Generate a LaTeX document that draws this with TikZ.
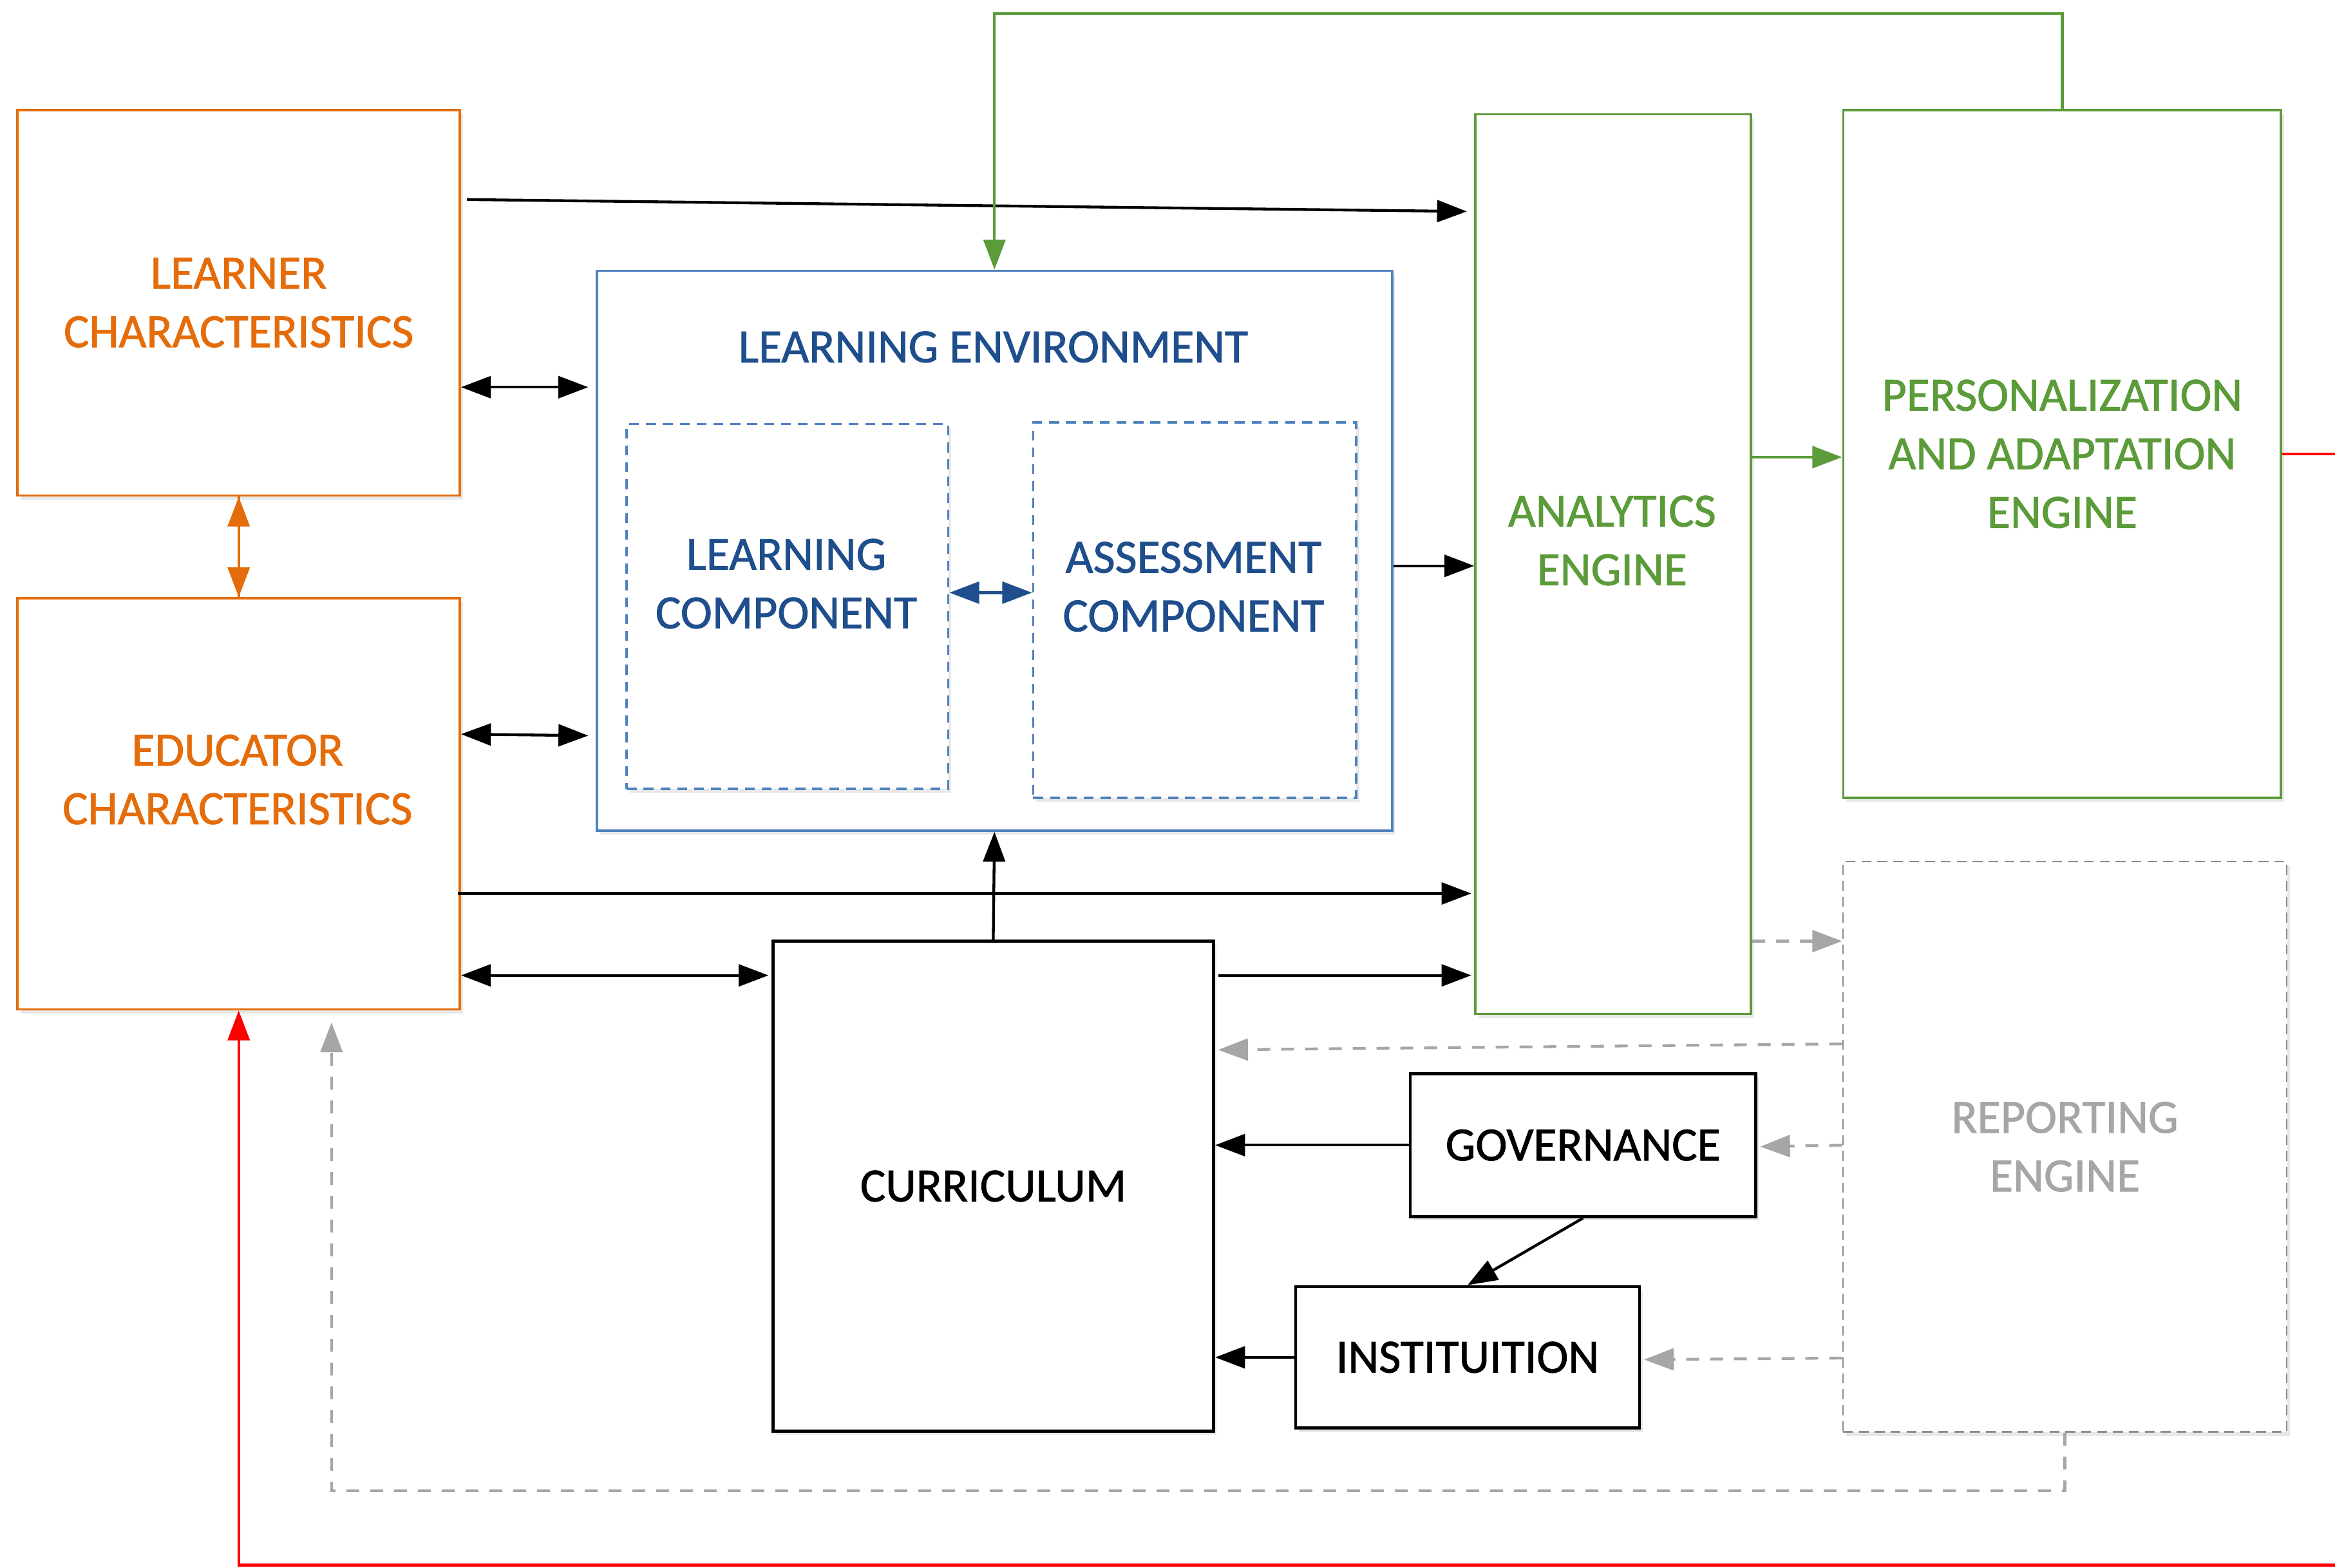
\documentclass[tikz,border=0pt]{standalone}
\usepackage{fontspec}
\setmainfont{Carlito}[BoldFont=Carlito, BoldFeatures={FakeBold=1.2}]
\usetikzlibrary{arrows.meta}
\usetikzlibrary{calc}
\usetikzlibrary{shadows}

\definecolor{learnorange}{RGB}{228,108,10}
\definecolor{envblue}{RGB}{79,129,189}
\definecolor{envtext}{RGB}{31,78,140}
\definecolor{enginegreen}{RGB}{91,155,57}
\definecolor{reportgray}{RGB}{166,166,166}
\definecolor{reportline}{RGB}{140,140,140}
\definecolor{loopred}{RGB}{255,0,0}

\tikzset{
  box/.style={draw, fill=white, anchor=north west, inner sep=0pt, align=center,
    line width=1.2pt, font=\fontsize{24}{29.5}\selectfont\bfseries,
    drop shadow={opacity=0.18, shadow xshift=1.5pt, shadow yshift=-2pt}},
  orangebox/.style={box, draw=learnorange, text=learnorange},
  envbox/.style={box, draw=envblue, text=envtext},
  compbox/.style={box, draw=envblue, text=envtext, dash pattern=on 5pt off 3.5pt},
  greenbox/.style={box, draw=enginegreen, text=enginegreen},
  blackbox/.style={box, draw=black, text=black, line width=1.5pt},
  reportbox/.style={box, draw=reportline, text=reportgray, line width=0.9pt,
    dash pattern=on 5pt off 3pt},
  boxtext/.style={align=center, inner sep=0pt, font=\fontsize{24}{29.5}\selectfont\bfseries},
  tip/.style={-{Triangle[length=15pt,width=11pt]}},
  twotip/.style={{Triangle[length=15pt,width=11pt]}-{Triangle[length=15pt,width=11pt]}},
  flow/.style={tip, line width=1.4pt, black},
  twoway/.style={twotip, line width=1.4pt, black},
  greenflow/.style={tip, line width=1.4pt, enginegreen},
  reportflow/.style={tip, line width=1.4pt, reportgray, dash pattern=on 6.5pt off 5.5pt},
}

\begin{document}
\begin{tikzpicture}[x=0.75pt,y=0.75pt,yscale=-1,xscale=1]
\useasboundingbox (0,0) rectangle (1568,1052.6);
\clip (0,0) rectangle (1568,1052.6);

% Left column
\node[orangebox, minimum width=222.75pt, minimum height=194.25pt] (learner) at (11,73) {LEARNER\\CHARACTERISTICS};
\node[orangebox, minimum width=222.75pt, minimum height=207pt] (educator) at (11,401) {};
\node[boxtext, text=learnorange] (educatortext) at (159.5,523.5) {EDUCATOR\\CHARACTERISTICS};

% Learning environment
\node[envbox, minimum width=400.5pt, minimum height=282pt] (lenv) at (400,181) {};
\node[boxtext, text=envtext] (lenvtext) at (667,233) {LEARNING ENVIRONMENT};
\node[compbox, minimum width=162pt, minimum height=183.75pt] (lcomp) at (420,284) {};
\node[boxtext, text=envtext] (lcomptext) at (528,392) {LEARNING\\COMPONENT};
\node[compbox, minimum width=162.75pt, minimum height=189pt] (acomp) at (693,283) {};
\node[boxtext, text=envtext] (acomptext) at (801.5,394) {ASSESSMENT\\COMPONENT};

% Engines
\node[greenbox, minimum width=138.75pt, minimum height=453pt] (analytics) at (990,76) {};
\node[boxtext, text=enginegreen] (analyticstext) at (1082.5,363) {ANALYTICS\\ENGINE};
\node[greenbox, minimum width=220.5pt, minimum height=346.5pt] (personal) at (1237,73) {PERSONALIZATION\\AND ADAPTATION\\ENGINE};
\node[reportbox, minimum width=223.5pt, minimum height=287.25pt] (reporting) at (1237,578) {REPORTING\\ENGINE};

% Curriculum side
\node[blackbox, minimum width=222pt, minimum height=246.75pt] (curriculum) at (518,631) {CURRICULUM};
\node[blackbox, minimum width=174pt, minimum height=72pt] (governance) at (946,720) {GOVERNANCE};
\node[blackbox, minimum width=173.25pt, minimum height=71.25pt] (institution) at (869,863) {INSTITUITION};

% Connectors
\draw[tip, line width=1.4pt, learnorange] (learner.south) -- (educator.north);
\draw[tip, line width=1.4pt, learnorange] (educator.north) -- (learner.south);
\draw[flow] ($(learner.north east)+(4,61)$) -- ($(analytics.north west)+(-5,66)$);
\draw[twoway] (learner.east |- 0,260) -- ($(lenv.west |- 0,260)+(-5,0)$);
\draw[twoway] (educator.east |- 0,493) -- ($(lenv.west |- 0,494)+(-5,0)$);
\draw[twotip, line width=1.4pt, envtext] (lcomp.east |- 0,398) -- (acomp.west |- 0,398);
\draw[flow] (lenv.east |- 0,380) -- (analytics.west |- 0,380);
\draw[flow] ($(educator.east |- 0,600)+(-2,0)$) -- ($(analytics.west |- 0,600)+(-2,0)$);
\draw[flow] (curriculum.north) -- (lenv.south);
\draw[twoway] (educator.east |- 0,655) -- ($(curriculum.west |- 0,655)+(-2,0)$);
\draw[flow] ($(curriculum.east |- 0,655)+(2,0)$) -- ($(analytics.west |- 0,655)+(-2,0)$);
\draw[greenflow] (analytics.east |- 0,307) -- (personal.west |- 0,307);
\draw[greenflow] (personal.north) -- (personal.north |- 0,9) -| (lenv.north);
\draw[reportflow] (analytics.east |- 0,632) -- (reporting.west |- 0,632);
\draw[reportflow] (reporting.west |- 0,701) -- ($(curriculum.east |- 0,705)+(2,0)$);
\draw[reportflow] (reporting.west |- 0,769) -- ($(governance.east)+(2,1)$);
\draw[reportflow] (reporting.west |- 0,912) -- ($(institution.east)+(2,1.5)$);
\draw[reportflow] (reporting.south) -- (reporting.south |- 0,1001) -| ($(educator.south east)+(-87,8)$);
\draw[flow] (governance.south) -- (institution.north);
\draw[flow] (governance.west) -- (curriculum.east |- governance.west);
\draw[flow] (institution.west) -- (curriculum.east |- institution.west);
\draw[tip, line width=1.4pt, loopred] (personal.east) -| (1590,1051) -| (educator.south);

\end{tikzpicture}
\end{document}
